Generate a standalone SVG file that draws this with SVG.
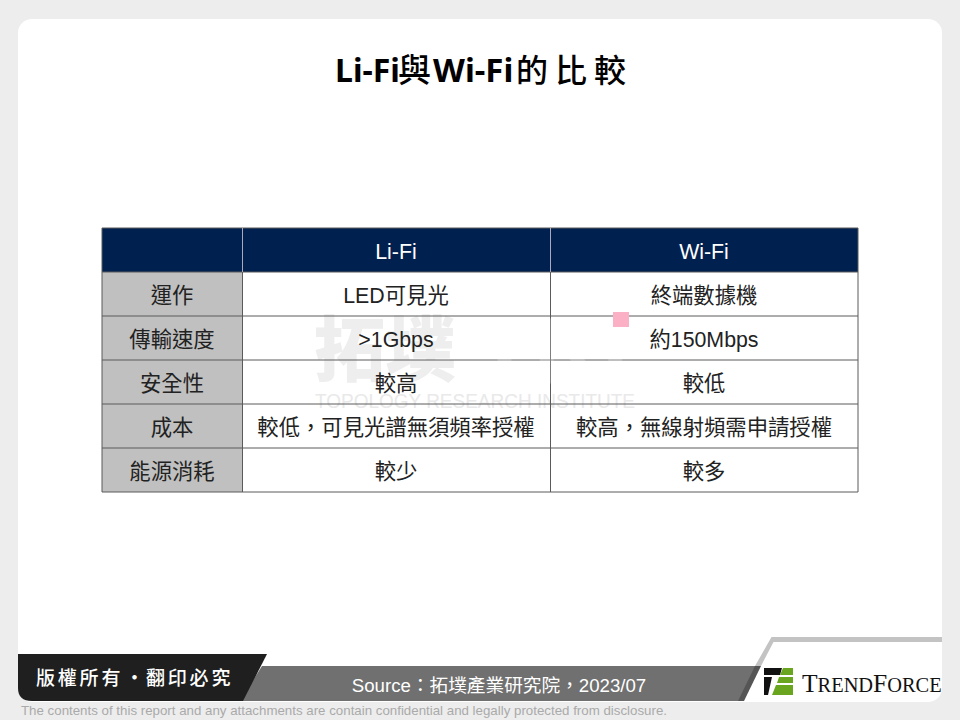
<svg xmlns="http://www.w3.org/2000/svg" width="960" height="720" viewBox="0 0 960 720">
<style>
text{font-family:"Liberation Sans","Noto Sans CJK TC",sans-serif;text-anchor:middle;fill:#222}
.c{font-size:21.330px}
.h{font-size:21.330px;fill:#fff}
.g{fill:#c0c0c0}
.l{stroke:#5a5a5a;stroke-width:1;fill:none}
.wm{fill:#eeeeee;font-weight:700}
.tc{font-family:"Noto Sans CJK TC",sans-serif;font-weight:500}
.tl{font-family:"Noto Sans",sans-serif;font-weight:700}
</style>
<rect width="960" height="720" fill="#ededed"/>
<rect x="18" y="19" width="924" height="683" rx="14" fill="#fff"/>
<g id="watermark">
<text class="wm" x="385" y="375" font-size="71" style="font-family:'Noto Sans CJK TC',sans-serif;font-weight:900">拓墣</text>
<text class="wm" x="475" y="408" font-size="21" textLength="320" lengthAdjust="spacingAndGlyphs" style="font-weight:400;fill:#e9e9e9">TOPOLOGY RESEARCH INSTITUTE</text>
</g>
<text id="title" x="335" y="82" font-size="32" style="fill:#000;text-anchor:start"><tspan class="tl">Li-Fi</tspan><tspan class="tc" x="398" font-size="33">與</tspan><tspan class="tl" x="433" font-size="33">Wi-Fi</tspan><tspan class="tc" x="516" font-size="32">的</tspan><tspan class="tc" x="555" font-size="32">比</tspan><tspan class="tc" x="594" font-size="32">較</tspan></text>
<g id="table">
<rect x="102" y="228" width="756" height="44" fill="#002050"/>
<rect x="102" y="272" width="140" height="220" class="g"/>
<path class="l" d="M102 228H858V492H102ZM102 272H858M102 316H858M102 360H858M102 404H858M102 448H858M242.500 272V492M550.500 272V492"/>
<path d="M242.500 228V272M550.500 228V272" stroke="#aab" stroke-width="1"/>
<text x="552" y="384" font-size="95" fill-opacity=".22" style="fill:#fff;font-weight:700">TRI</text>
<text class="h" x="396" y="259">Li-Fi</text>
<text class="h" x="704" y="259">Wi-Fi</text>
<text class="c" x="172" y="303">運作</text>
<text class="c" x="396" y="303">LED可見光</text>
<text class="c" x="704" y="303">終端數據機</text>
<text class="c" x="172" y="347">傳輸速度</text>
<text class="c" x="396" y="347">&gt;1Gbps</text>
<text class="c" x="704" y="347">約150Mbps</text>
<text class="c" x="172" y="391">安全性</text>
<text class="c" x="396" y="391">較高</text>
<text class="c" x="704" y="391">較低</text>
<text class="c" x="172" y="435">成本</text>
<text class="c" x="396" y="435">較低，可見光譜無須頻率授權</text>
<text class="c" x="704" y="435">較高，無線射頻需申請授權</text>
<text class="c" x="172" y="479">能源消耗</text>
<text class="c" x="396" y="479">較少</text>
<text class="c" x="704" y="479">較多</text>
<rect x="613" y="312" width="16" height="15" fill="#fcb0c6"/>
</g>
<g id="footer">
<path d="M262 666H756L739 701H240Z" fill="#707070"/>
<path d="M755 666H761L744 701H738Z" fill="#555"/>
<path d="M18 654H267L243 701H32Q18 701 18 688Z" fill="#1f1f1f"/>
<text x="36" y="685" font-size="19" style="font-weight:500;fill:#fff;letter-spacing:2.800px;text-anchor:start;font-family:'Noto Sans CJK TC',sans-serif">版權所有<tspan x="125">·</tspan><tspan x="146">翻印必究</tspan></text>
<text x="499" y="692" font-size="18.670" style="fill:#fff">Source：拓墣產業研究院，2023/07</text>
<path d="M755 666L771.500 637H942V642H773.500L761 666Z" fill="#c3c3c3"/>
<text x="344" y="715" font-size="13.300" style="fill:#aaa">The contents of this report and any attachments are contain confidential and legally protected from disclosure.</text>
<path d="M764 668H782L780 675H764Z" fill="#111"/>
<path d="M764 677H772L768 695H764Z" fill="#111"/>
<path d="M783 668H793V675H780ZM779 677H793V683H777ZM776 685H793V695H772Z" fill="#6aa51f"/>
<text x="802" y="692" font-size="25.500" style="font-family:'Liberation Serif',serif;fill:#111;text-anchor:start">T<tspan font-size="20.400">REND</tspan>F<tspan font-size="20.400">ORCE</tspan></text>
</g>
</svg>
